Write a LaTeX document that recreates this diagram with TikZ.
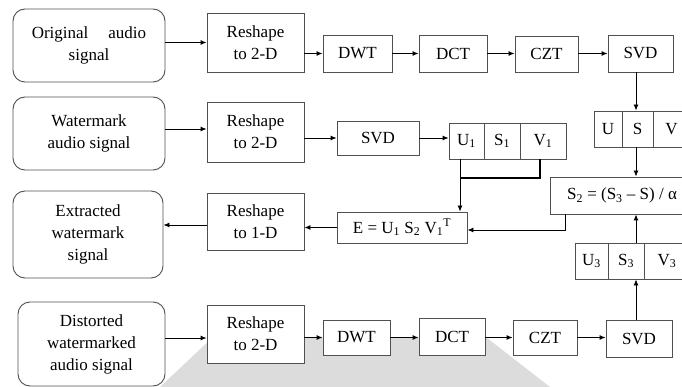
\documentclass[tikz,border=0pt]{standalone}
\usepackage{fontspec}
\setmainfont{Liberation Serif}
\usetikzlibrary{arrows.meta}
\definecolor{boxline}{HTML}{505050}
\definecolor{wmgrey}{HTML}{DCDCDC}
\tikzset{
  txt/.style={font=\fontsize{17}{22}\selectfont, align=center, inner sep=0pt},
  rbox/.style={txt, draw=boxline, line width=0.9pt, rounded corners=12pt, fill=white},
  sbox/.style={txt, draw=boxline, line width=0.9pt, fill=white},
  arr/.style={draw=black, line width=0.9pt, -{Latex[length=6pt,width=5pt]}},
  conn/.style={draw=black, line width=1.2pt}
}
\begin{document}
\begin{tikzpicture}[x=1pt,y=-1pt]
\useasboundingbox (0,0) rectangle (682,387);
\clip (0,0) rectangle (682,387);
\fill[wmgrey] (160,387) -- (212,338) -- (487,338) -- (550,387) -- cycle;

% row 1
\node[rbox, minimum width=152pt, minimum height=73pt] (orig) at (89,45.5) {Original\hspace{20pt}audio\\signal};
\node[sbox, minimum width=97pt, minimum height=59pt] (rs1) at (255.5,42.5) {Reshape\\to 2-D};
\node[sbox, minimum width=69pt, minimum height=37pt] (dwt1) at (357.5,53.5) {DWT};
\node[sbox, minimum width=68pt, minimum height=37pt] (dct1) at (453,53.5) {DCT};
\node[sbox, minimum width=63pt, minimum height=36pt] (czt1) at (546.5,54) {CZT};
\node[sbox, minimum width=65pt, minimum height=37pt] (svd1) at (640.5,53.5) {SVD};

% row 2
\node[rbox, minimum width=152pt, minimum height=73pt] (wm) at (89,133.5) {Watermark\\audio signal};
\node[sbox, minimum width=97pt, minimum height=60pt] (rs2) at (255.5,132) {Reshape\\to 2-D};
\node[sbox, minimum width=82pt, minimum height=34pt] (svd2) at (378,138) {SVD};
\node[sbox, minimum width=35pt, minimum height=36pt] (u1) at (466.5,141) {U\textsubscript{1}};
\node[sbox, minimum width=36pt, minimum height=36pt] (s1) at (502,141) {S\textsubscript{1}};
\node[sbox, minimum width=46pt, minimum height=36pt] (v1) at (543,141) {V\textsubscript{1}};

\node[sbox, minimum width=28pt, minimum height=36pt] (u) at (608,129) {U};
\node[sbox, minimum width=31pt, minimum height=36pt] (s) at (637.5,129) {S};
\node[sbox, minimum width=37pt, minimum height=36pt] (v) at (671.5,129) {V};

\node[sbox, minimum width=144pt, minimum height=37pt] (s2) at (622,195.5) {S\textsubscript{2} = (S\textsubscript{3} – S) / α};

% row 3
\node[sbox, minimum width=130pt, minimum height=31pt] (E) at (402,227.5) {E = U\textsubscript{1} S\textsubscript{2} V\textsubscript{1}\textsuperscript{T}};
\node[sbox, minimum width=97pt, minimum height=57pt] (rs3) at (255.5,221.5) {Reshape\\to 1-D};
\node[rbox, minimum width=150pt, minimum height=87pt] (ext) at (88,234.5) {Extracted\\watermark\\signal};

\node[sbox, minimum width=33pt, minimum height=36pt] (u3) at (591.5,261) {U\textsubscript{3}};
\node[sbox, minimum width=36pt, minimum height=36pt] (s3) at (626,261) {S\textsubscript{3}};
\node[sbox, minimum width=46pt, minimum height=36pt] (v3) at (667,261) {V\textsubscript{3}};

% row 4
\node[rbox, minimum width=147pt, minimum height=84pt] (dist) at (91.5,344) {Distorted\\watermarked\\audio signal};
\node[sbox, minimum width=97pt, minimum height=58pt] (rs4) at (255.5,334) {Reshape\\to 2-D};
\node[sbox, minimum width=67pt, minimum height=35pt] (dwt4) at (356.5,337.5) {DWT};
\node[sbox, minimum width=66pt, minimum height=37pt] (dct4) at (452,336.5) {DCT};
\node[sbox, minimum width=64pt, minimum height=35pt] (czt4) at (545,337.5) {CZT};
\node[sbox, minimum width=66pt, minimum height=37pt] (svd4) at (639,338.5) {SVD};

% helper coordinates
\coordinate (col) at (636,0);
\coordinate (fk) at (460,178);
\coordinate (sd) at (565,230);

% row 1 arrows
\draw[arr] (orig.east |- rs1.west) -- (rs1.west);
\draw[arr] (rs1.east |- dwt1.west) -- (dwt1.west);
\draw[arr] (dwt1.east) -- (dct1.west |- dwt1.east);
\draw[arr] (dct1.east) -- (czt1.west |- dct1.east);
\draw[arr] (czt1.east |- svd1.west) -- (svd1.west);
\draw[arr] (col |- svd1.south) -- (col |- s.north);
\draw[arr] (col |- s.south) -- (col |- s2.north);

% row 2 arrows
\draw[arr] (wm.east |- 0,129) -- (rs2.west |- 0,129);
\draw[arr] (rs2.east |- svd2.west) -- (svd2.west);
\draw[arr] (svd2.east) -- (u1.west |- svd2.east);
\draw[conn] (v1.south -| 540,0) |- (fk);
\draw[arr] (fk |- u1.south) -- (fk |- E.north);

% row 3 arrows
\draw[arr] (sd |- s2.south) -- (sd) -- (E.east |- sd);
\draw[arr] (E.west) -- (rs3.east |- E.west);
\draw[arr] (rs3.west |- 0,225) -- (ext.east |- 0,225);

% row 4 arrows
\draw[arr] (dist.east |- 0,338) -- (rs4.west |- 0,338);
\draw[arr] (rs4.east |- dwt4.west) -- (dwt4.west);
\draw[arr] (dwt4.east) -- (dct4.west |- dwt4.east);
\draw[arr] (dct4.east |- czt4.west) -- (czt4.west);
\draw[arr] (czt4.east) -- (svd4.west |- czt4.east);
\draw[arr] (col |- svd4.north) -- (col |- s3.south);
\draw[arr] (col |- s3.north) -- (col |- s2.south);
\end{tikzpicture}
\end{document}
